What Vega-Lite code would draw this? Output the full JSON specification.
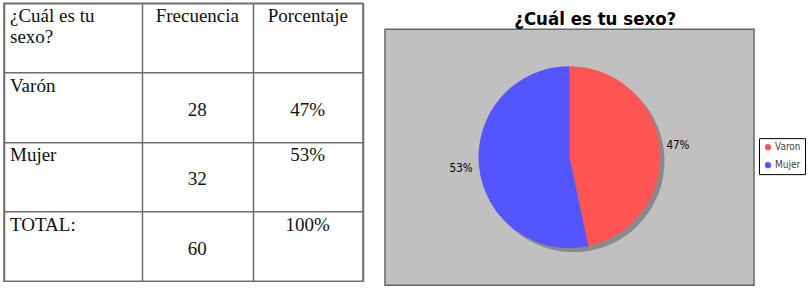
{
  "$schema": "https://vega.github.io/schema/vega-lite/v6.json",
  "padding": {"top": 2, "left": 3, "right": 0, "bottom": 0},
  "background": "white",
  "datasets": {
    "tabla": [
      {"sexo": "¿Cuál es tu\nsexo?", "frecuencia": "Frecuencia", "porcentaje": "Porcentaje"},
      {"sexo": "Varón", "frecuencia": "\n28", "porcentaje": "\n47%"},
      {"sexo": "Mujer", "frecuencia": "\n32", "porcentaje": "53%"},
      {"sexo": "TOTAL:", "frecuencia": "\n60", "porcentaje": "100%"}
    ],
    "grafico": [
      {"sexo": "Varon", "cantidad": 28, "porcentaje": 0.47},
      {"sexo": "Mujer", "cantidad": 32, "porcentaje": 0.53}
    ]
  },
  "center": true,
  "spacing": 20,
  "resolve": {"scale": {"color": "independent"}, "legend": {"color": "independent"}},
  "hconcat": [
    {
      "width": 359,
      "height": 278,
      "data": {"name": "tabla"},
      "view": {"stroke": "#6e6e6e", "strokeWidth": 1.5, "fill": null},
      "encoding": {
        "y": {
          "field": "sexo", "type": "nominal", "sort": null,
          "scale": {"type": "band", "paddingInner": 0, "paddingOuter": 0},
          "bandPosition": 0, "title": null,
          "axis": {"grid": true, "bandPosition": 0, "labels": false, "ticks": false, "domain": false, "gridColor": "#6e6e6e", "gridWidth": 1.5}
        }
      },
      "layer": [
        {
          "mark": {"type": "text", "align": "left", "baseline": "alphabetic", "dx": 6, "dy": 19, "lineBreak": "\n", "lineHeight": 21, "font": "Liberation Serif", "fontSize": 19, "color": "#111"},
          "encoding": {
            "x": {"datum": 0, "type": "quantitative", "scale": {"domain": [0, 13], "nice": false}, "title": null,
                  "axis": {"orient": "bottom", "minExtent": 30, "values": [0, 5, 9, 13], "grid": true, "labels": false, "ticks": false, "domain": false, "gridColor": "#6e6e6e", "gridWidth": 1.5}},
            "text": {"field": "sexo"}
          }
        },
        {
          "mark": {"type": "text", "align": "center", "baseline": "alphabetic", "dy": 19, "lineBreak": "\n", "lineHeight": 24, "font": "Liberation Serif", "fontSize": 19, "color": "#111"},
          "encoding": {
            "x": {"datum": 7, "type": "quantitative"},
            "text": {"field": "frecuencia"}
          }
        },
        {
          "mark": {"type": "text", "align": "center", "baseline": "alphabetic", "dy": 19, "lineBreak": "\n", "lineHeight": 24, "font": "Liberation Serif", "fontSize": 19, "color": "#111"},
          "encoding": {
            "x": {"datum": 11, "type": "quantitative"},
            "text": {"field": "porcentaje"}
          }
        }
      ]
    },
    {
      "width": 369,
      "height": 256,
      "data": {"name": "grafico"},
      "title": {"text": "¿Cuál es tu sexo?", "font": "DejaVu Sans Condensed", "fontSize": 18.5, "fontWeight": "bold", "color": "#000", "frame": "bounds", "anchor": "middle", "offset": 1},
      "view": {"fill": "#c0c0c0", "stroke": "#666666", "strokeWidth": 1.5},
      "encoding": {
        "theta": {"field": "cantidad", "type": "quantitative", "stack": true},
        "order": {"field": "cantidad", "sort": "ascending"}
      },
      "layer": [
        {
          "mark": {"type": "arc", "outerRadius": 91, "color": "#8a8a8a", "xOffset": 4, "yOffset": 4}
        },
        {
          "mark": {"type": "arc", "outerRadius": 91},
          "encoding": {
            "color": {
              "field": "sexo", "type": "nominal", "sort": ["Varon", "Mujer"],
              "scale": {"domain": ["Varon", "Mujer"], "range": ["#ff5555", "#5555ff"]},
              "legend": {"title": null, "orient": "none", "legendX": 374, "legendY": 109, "fillColor": "#ffffff", "strokeColor": "#000000", "padding": 4, "symbolType": "circle", "symbolSize": 38, "labelOffset": 2, "labelFont": "DejaVu Sans Condensed", "labelFontSize": 10, "labelColor": "#444444", "rowPadding": 8}
            }
          }
        },
        {
          "mark": {"type": "text", "radius": 109, "font": "DejaVu Sans Condensed", "fontSize": 11.5, "color": "#000"},
          "encoding": {
            "text": {"field": "porcentaje", "type": "quantitative", "format": ".0%"}
          }
        }
      ]
    }
  ]
}
